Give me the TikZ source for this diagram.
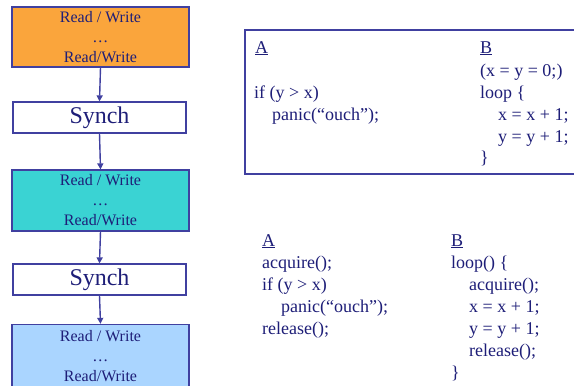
\documentclass[tikz,border=0pt]{standalone}
\usepackage{fontspec}
\setmainfont{Liberation Serif}
\usetikzlibrary{arrows.meta}
\definecolor{navy}{HTML}{1E1E78}
\definecolor{edge}{HTML}{4040A0}
\definecolor{orangefill}{HTML}{FAA53C}
\definecolor{tealfill}{HTML}{3AD3D3}
\definecolor{bluefill}{HTML}{AAD5FF}
\tikzset{
  rwbox/.style={draw=edge, line width=1.3pt, minimum width=177pt, inner sep=0pt,
    text=navy, align=center, font=\fontsize{16}{20}\selectfont},
  synchbox/.style={draw=edge, line width=1.3pt, fill=white, minimum width=173pt, minimum height=31pt,
    inner sep=0pt, text=navy, font=\fontsize{24}{28}\selectfont},
  flow/.style={draw=edge, line width=1.4pt, -{Triangle[width=6pt,length=6pt]}},
  code/.style={anchor=base west, inner sep=0pt, text=navy, font=\fontsize{18}{22}\selectfont},
}
\begin{document}
\begin{tikzpicture}[x=1pt,y=-1pt]
\useasboundingbox (0,0) rectangle (574,386);
\clip (0,0) rectangle (574,386);
\fill[white] (0,0) rectangle (574,386);
% left column
\node[rwbox, fill=orangefill, minimum height=60pt] (rw1) at (100.5,37) {Read / Write\\…\\Read/Write};
\node[synchbox] (s1) at (99.5,117.5) {Synch};
\node[rwbox, fill=tealfill, minimum height=61pt] (rw2) at (100.5,200.5) {Read / Write\\…\\Read/Write};
\node[synchbox] (s2) at (99.5,279.5) {Synch};
\node[rwbox, fill=bluefill, minimum height=66pt, text height=67pt, text depth=0pt] (rw3) at (100.5,358) {};
\node[anchor=north, inner sep=0pt, text=navy, align=center, font=\fontsize{16}{20}\selectfont] (rw3t) at (100.5,330) {Read / Write\\…\\Read/Write};
\draw[flow] (rw1.south) -- (s1.north);
\draw[flow] (s1.south) -- (rw2.north);
\draw[flow] (rw2.south) -- (s2.north);
\draw[flow] (s2.south) -- (rw3.north);
% top right box
\draw[edge, line width=2pt] (245,30) rectangle (590,174);
\node[code] (ta) at (255,53) {\underline{A}};
\node[code] (ta1) at (254,98) {if (y > x)};
\node[code] (ta2) at (272,120) {panic(“ouch”);};
\node[code] (tb) at (480,53) {\underline{B}};
\node[code] (tb1) at (480,76) {(x = y = 0;)};
\node[code] (tb2) at (480,98) {loop \{};
\node[code] (tb3) at (498,120) {x = x + 1;};
\node[code] (tb4) at (498,142) {y = y + 1;};
\node[code] (tb5) at (480,163) {\}};
% bottom code
\node[code] (ba) at (262,246) {\underline{A}};
\node[code] (ba1) at (262,268) {acquire();};
\node[code] (ba2) at (262,290) {if (y > x)};
\node[code] (ba3) at (281,312) {panic(“ouch”);};
\node[code] (ba4) at (262,334) {release();};
\node[code] (bb) at (451,246) {\underline{B}};
\node[code] (bb1) at (451,268) {loop() \{};
\node[code] (bb2) at (469,290) {acquire();};
\node[code] (bb3) at (469,312) {x = x + 1;};
\node[code] (bb4) at (469,334) {y = y + 1;};
\node[code] (bb5) at (469,356) {release();};
\node[code] (bb6) at (451,378) {\}};
\end{tikzpicture}
\end{document}
